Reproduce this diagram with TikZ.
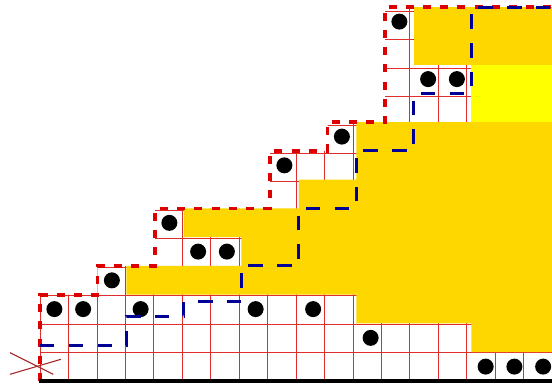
\documentclass[tikz,border=0pt]{standalone}
\definecolor{gold}{RGB}{255,215,0}
\definecolor{brightyellow}{RGB}{255,255,0}
\definecolor{gridred}{RGB}{222,45,45}
\definecolor{dashred}{RGB}{221,0,0}
\definecolor{pathblue}{RGB}{0,0,150}
\definecolor{crossred}{RGB}{165,40,40}
\begin{document}
\begin{tikzpicture}[x=28.75pt,y=28.75pt,
  gridline/.style={draw=gridred,line width=0.8pt},
  goldarea/.style={fill=gold},
  brightarea/.style={fill=brightyellow},
  bead/.style={fill=black},
  redstair/.style={draw=dashred,line width=3.8pt,dash pattern=on 8pt off 9.2pt},
  bluepath/.style={draw=pathblue,line width=3pt,dash pattern=on 14.375pt off 14.375pt},
  crossline/.style={draw=crossred,line width=1.1pt},
  basebar/.style={draw=black,line width=4pt}]
\useasboundingbox (-40pt,-4pt) rectangle (512pt,381pt);
\clip (-40pt,-4pt) rectangle (512pt,381pt);
% grid of white cells
\begin{scope}
  \clip (0,0) -- (0,3) -- (2,3) -- (2,4) -- (4,4) -- (4,6) -- (8,6) -- (8,8) -- (10,8) -- (10,9) -- (12,9) -- (12,13) -- (18,13) -- (18,0) -- cycle;
  \draw[gridline] (0,0) grid (18,13);
\end{scope}
% yellow regions
\fill[goldarea] (18,1) -- (15,1) -- (15,2) -- (11,2) -- (11,3) -- (3,3) -- (3,4) -- (7,4) -- (7,5) -- (5,5) -- (5,6) -- (9,6) -- (9,7) -- (11,7) -- (11,9) -- (18,9) -- cycle;
\fill[goldarea] (13,11) rectangle (18,13);
\fill[brightarea] (15,9) rectangle (18,11);
% beads
\foreach \i/\j in {15/0,16/0,17/0,11/1,0/2,1/2,3/2,7/2,9/2,2/3,5/4,6/4,4/5,8/7,10/8,13/10,14/10,12/12}
  \fill[bead] (\i+0.5,\j+0.5) circle (8pt);
% staircase boundary
\draw[redstair] (0,0) -- (0,3) -- (2,3) -- (2,4) -- (4,4) -- (4,6) -- (8,6) -- (8,8) -- (10,8) -- (10,9) -- (12,9) -- (12,13) -- (18,13);
% lattice path
\draw[bluepath] (0,1.25) -- (3,1.25) -- (3,2.25) -- (5,2.25) -- (5,2.75) -- (7,2.75) -- (7,4) -- (9,4) -- (9,6) -- (11,6) -- (11,8) -- (13,8) -- (13,10) -- (15,10) -- (15,13) -- (18,13);
% base bar
\draw[basebar] (-0.02,-0.01) -- (18,-0.01);
% cross mark
\draw[crossline] (-1.043,0.984) -- (0.463,0.233);
\draw[crossline] (-1.043,0.233) -- (0.730,0.755);
\end{tikzpicture}
\end{document}
